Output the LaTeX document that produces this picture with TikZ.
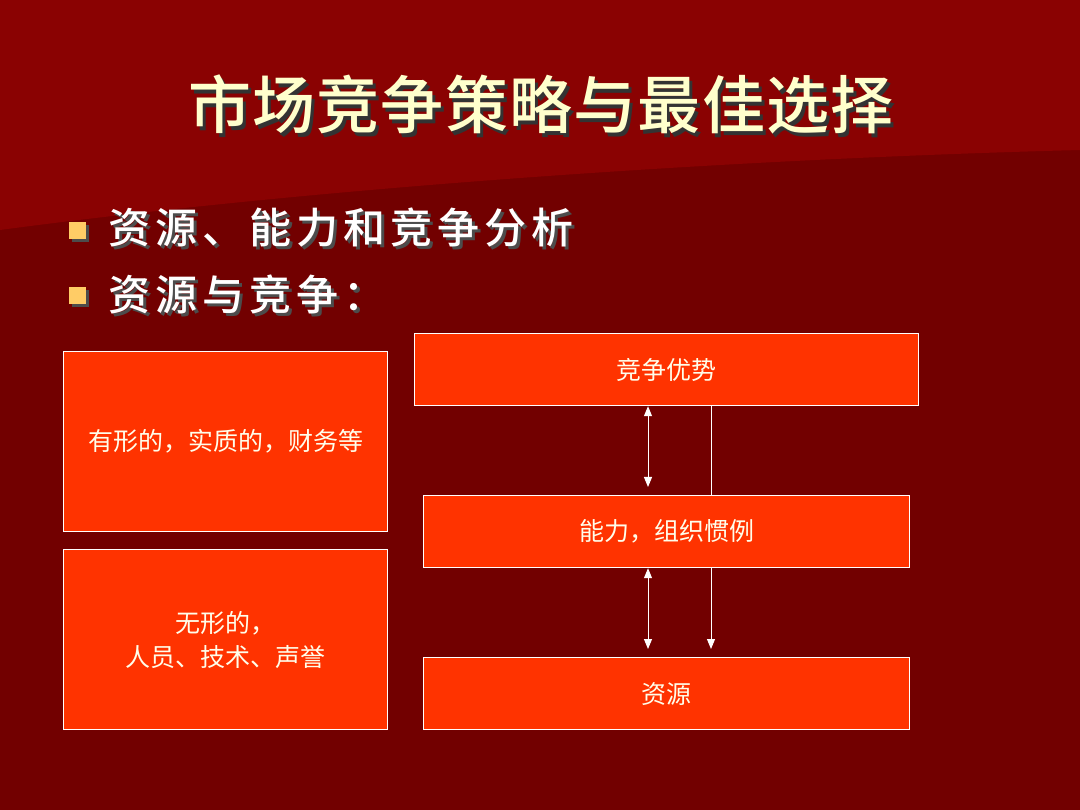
\documentclass[tikz,border=0pt]{standalone}
\usepackage{fontspec}
\newfontfamily\cjk{Noto Sans CJK SC}
\newfontfamily\cjkb{Noto Sans CJK SC Medium}
\usetikzlibrary{arrows.meta}
\definecolor{bgdark}{HTML}{720000}
\definecolor{bglight}{HTML}{8A0202}
\definecolor{boxred}{HTML}{FF3300}
\definecolor{titlecol}{HTML}{FFFFCC}
\definecolor{bulletcol}{HTML}{FFCC66}
\tikzset{
  rbox/.style={draw=white, line width=1.2pt, fill=boxred, anchor=north west, inner sep=0pt, align=center, text=white!92!yellow, font=\cjk\fontsize{25}{34}\selectfont},
  arr/.style={draw=white, line width=1pt, -{Triangle[width=8pt,length=10pt]}},
  darr/.style={draw=white, line width=1pt, {Triangle[width=8pt,length=10pt]}-{Triangle[width=8pt,length=10pt]}},
  bul/.style={text=white, font=\cjkb\fontsize{42}{46}\selectfont\addfontfeatures{LetterSpace=12}, anchor=west, inner sep=0pt}
}
\begin{document}
\begin{tikzpicture}[x=1pt,y=-1pt]
\useasboundingbox (0,0) rectangle (1080,810);
\fill[bgdark] (0,0) rectangle (1080,810);
\fill[bglight] (0,0) -- (1080,0) -- (1080,150) .. controls (700,160) and (300,190) .. (0,230) -- cycle;
% title
\node[text=black!80, font=\cjkb\fontsize{63}{70}\selectfont\addfontfeatures{LetterSpace=2}] at (544,108) {市场竞争策略与最佳选择};
\node[text=titlecol, font=\cjkb\fontsize{63}{70}\selectfont\addfontfeatures{LetterSpace=2}] (title) at (541,104) {市场竞争策略与最佳选择};
% bullets
\fill[black!70] (72,225) rectangle (89,242);
\fill[bulletcol] (69,222) rectangle (86,239);
\node[bul, text=black!70] at (111,231) {资源、能力和竞争分析};
\node[bul] (b1) at (108,228) {资源、能力和竞争分析};
\fill[black!70] (72,290) rectangle (89,307);
\fill[bulletcol] (69,287) rectangle (86,304);
\node[bul, text=black!70] at (111,297) {资源与竞争：};
\node[bul] (b2) at (108,294) {资源与竞争：};
% boxes
\node[rbox, minimum width=324pt, minimum height=180pt] (l1) at (63,351) {有形的，实质的，财务等};
\node[rbox, minimum width=324pt, minimum height=180pt] (l2) at (63,549) {无形的，\\人员、技术、声誉};
\node[rbox, minimum width=504pt, minimum height=72pt] (top) at (414,333) {竞争优势};
\node[rbox, minimum width=486pt, minimum height=72pt] (mid) at (423,495) {能力，组织惯例};
\node[rbox, minimum width=486pt, minimum height=72pt] (bot) at (423,657) {资源};
% connectors
\coordinate (a1) at (648,0); \coordinate (a2) at (711,0);
\draw[darr] (top.south -| a1) -- ([yshift=8pt]mid.north -| a1);
\draw[draw=white, line width=1pt] (top.south -| a2) -- (mid.north -| a2);
\draw[darr] (mid.south -| a1) -- ([yshift=8pt]bot.north -| a1);
\draw[arr] (mid.south -| a2) -- ([yshift=8pt]bot.north -| a2);
\end{tikzpicture}
\end{document}
